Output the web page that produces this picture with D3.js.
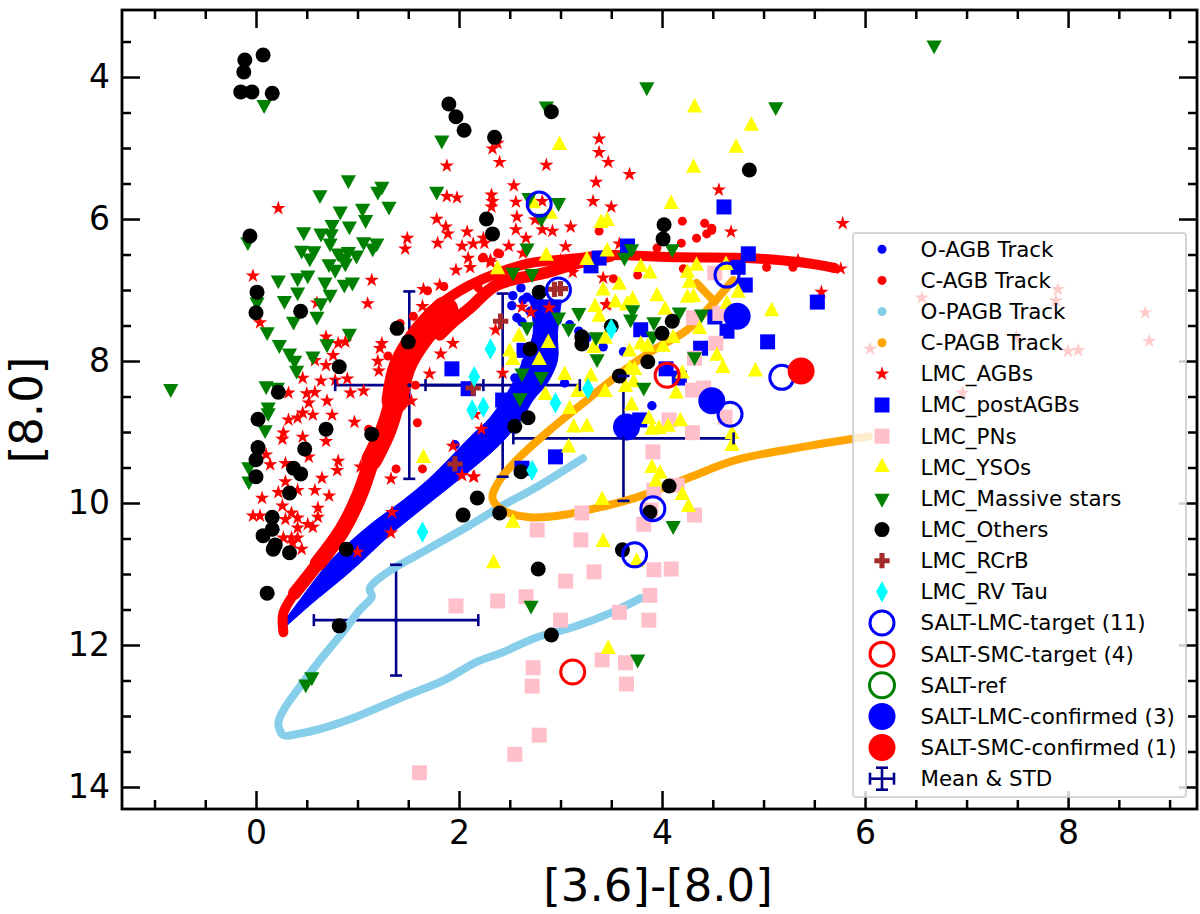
<!DOCTYPE html>
<html>
<head>
<meta charset="utf-8">
<script src="https://cdn.jsdelivr.net/npm/d3@7"></script>
<style>
body { margin: 0; background: #fff; }
text { font-family: "DejaVu Sans", sans-serif; fill: #000; }
</style>
</head>
<body>
<div id="chart"></div>
<script>
// tracks
var oAgbUpper = [[.27,11.68],[.43,11.37],[.73,10.82],[1.12,10.31],[1.45,9.96],[1.71,9.65],[2.11,9.07],[2.31,8.79],[2.53,8.31],[2.63,7.99],[2.73,7.61],[2.70,7.14]];
var oAgbLower = [[.31,11.72],[.53,11.44],[.95,10.94],[1.32,10.45],[1.62,10.10],[1.91,9.77],[2.11,9.54],[2.40,9.18],[2.63,8.79],[2.73,8.55],[2.87,8.31],[2.97,7.99],[2.97,7.61],[3.01,7.14]];
var oAgbDots = [[2.61,6.97],[2.53,7.08],[2.52,7.22],[2.57,7.39],[3.42,7.80],[3.62,7.87],[3.90,8.63],[3.04,8.31],[2.92,7.99],[1.96,9.18],[2.97,7.42],[3.09,7.49],[3.18,7.58],[3.26,7.68],[2.67,7.10],[2.73,7.14],[2.80,7.18],[2.63,7.14],[2.70,7.30],[2.62,7.45],[2.55,8.24],[2.66,8.02]];
var cAgbTip = [[.27,11.82],[.27,11.55],[.38,11.27],[.50,11.05]];
var cAgbLow = [[.38,11.27],[.61,10.85],[.85,10.38]];
var cAgbMid = [[.61,10.85],[.85,10.38],[1.02,9.89],[1.14,9.39]];
var cAgbStem = [[1.14,9.39],[1.28,8.97],[1.37,8.55]];
var cAgbBlob = [[1.37,8.55],[1.44,8.08],[1.64,7.61],[1.86,7.28]];
var cAgbUpper = [[1.71,7.31],[1.91,7.10],[2.11,6.93],[2.40,6.75],[2.70,6.62],[3.19,6.55],[3.42,6.51],[4.18,6.54],[4.84,6.55],[5.36,6.61],[5.70,6.69]];
var cAgbLower = [[1.81,7.63],[1.94,7.45],[2.11,7.25],[2.37,6.93],[2.87,6.75],[3.19,6.61],[3.49,6.52]];
var cAgbDots = [[4.20,6.03],[4.42,6.06],[4.49,6.13],[4.49,6.16],[4.44,6.21],[4.34,6.27],[4.19,6.34],[3.95,6.41],[3.38,6.17],[4.21,6.70],[5.03,6.68],[5.29,6.68],[3.76,6.79],[3.52,6.84],[2.40,6.49],[1.69,7.01],[1.85,6.95],[1.55,7.37],[1.42,7.47],[1.80,7.41],[1.30,7.93],[1.59,8.87],[1.11,8.96],[1.38,9.52],[1.64,9.52],[1.57,8.34],[2.23,6.55],[2.38,6.48],[2.19,6.97],[2.24,6.54]];
var oPagbTrack = [[3.22,9.37],[2.77,9.77],[2.40,10.06],[2.11,10.31],[1.68,10.66],[1.26,11.01],[1.12,11.20],[1.14,11.32],[1.02,11.51],[.85,11.83],[.61,12.25],[.42,12.61],[.27,12.92],[.22,13.10],[.27,13.27],[.42,13.25],[.66,13.17],[.99,13.01],[1.45,12.73],[1.86,12.49],[2.17,12.24],[2.42,12.11],[2.75,11.90],[3.12,11.75],[3.49,11.55],[3.79,11.34]];
var cPagbTrack = [[6.04,9.06],[5.39,9.21],[4.74,9.39],[4.25,9.65],[3.75,9.92],[3.36,10.07],[3.02,10.17],[2.70,10.20],[2.43,10.10],[2.33,9.93],[2.40,9.68],[2.60,9.35],[2.93,8.93],[3.26,8.55],[3.59,8.17],[3.91,7.85],[4.25,7.56],[4.47,7.24],[4.70,6.86]];
var cPagbBranch = [[4.52,7.17],[4.34,6.90]];

// scatter groups
var lmcAgbs = [[.22,5.85],[1.88,5.25],[1.88,5.68],[1.98,5.70],[1.78,6.0],[1.87,6.11],[1.89,6.21],[2.08,6.18],[1.79,6.34],[2.03,6.38],[2.14,6.35],[1.49,6.27],[1.47,6.42],[2.09,6.55],[2.11,6.68],[1.97,6.72],[1.14,6.86],[-.03,6.80],[1.10,7.19],[1.65,6.99],[1.81,6.93],[.60,7.18],[1.64,7.23],
  [2.24,6.27],[2.31,6.61],[2.33,5.75],[2.63,6.48],[2.31,6.58],[3.0,6.58],[3.12,6.75],
  [3.38,4.87],[3.38,5.06],[3.47,5.2],[3.68,5.37],[3.35,5.48],[3.32,5.75],[3.50,5.83],[2.38,4.93],[2.33,5.01],[2.40,5.20],[2.86,5.24],[2.54,5.53],[2.56,5.76],[2.32,5.66],[2.32,5.83],[2.57,5.97],[2.82,5.75],[2.56,6.15],[2.82,6.15],[2.92,6.17],[3.10,6.11],[2.75,6.01],[2.66,6.27],[2.49,6.38],[3.05,6.39],[2.25,6.34],[3.58,6.35],[4.56,5.59],[4.68,6.18],[5.78,6.06],[5.76,6.70],[5.57,7.03],[3.42,6.83],[3.46,7.20],[5.34,6.58],
  [2.62,7.24],[2.71,7.31],[2.89,7.25],[2.36,7.56],[3.45,7.21],[2.43,8.17],[2.22,8.96],[2.15,9.63],[2.16,8.75],
  [.04,7.46],[.69,7.66],[.81,7.75],[.88,7.73],[.76,7.92],[.58,7.99],[.69,8.06],[.46,8.24],[.64,8.28],[.90,8.25],[.78,8.27],[.93,8.45],[1.06,8.42],[.32,8.45],[.50,8.46],[.58,8.44],[.70,8.56],[.52,8.59],[.46,8.73],[.56,8.76],[.75,8.76],[.32,8.83],[.41,8.80],[.97,8.86],[.27,9.01],[.26,9.10],[.46,9.07],[.69,9.13],[.52,9.35],[.81,9.41],[.80,9.54],[.14,9.46],[.10,9.32],[.29,9.44],[.29,9.70],[.65,9.65],[1.03,9.49],[1.33,9.66],[.58,9.82],[.41,9.82],[.22,9.85],[.72,9.90],[.06,9.93],[.26,10.04],[.61,10.07],[.61,10.20],[-.03,10.18],[.04,10.18],[.29,10.23],[.35,10.14],[.41,10.21],[.41,10.35],[.51,10.30],[.56,10.34],[.27,10.49],[.35,10.49],[.41,10.49],[.45,10.65],[.36,10.56],[1.34,10.13],[1.33,10.42],[1.00,10.69],[1.94,9.20],[2.03,9.61],[2.14,9.63],[1.53,8.56],[1.71,8.18],[1.82,7.90],[1.94,7.75],[1.24,7.75],[1.22,7.82],[1.20,8.0],[1.21,8.14],
  [6.56,7.11],[7.90,6.99],[7.88,7.15],[8.76,7.32],[8.80,7.72],[6.05,7.83],[7.49,7.66],[8.0,7.86],[8.10,7.85],[6.96,8.45]];
var lmcPostAgbs = [[4.61,5.83],[4.85,6.49],[5.53,7.17],[4.75,6.68],[4.82,6.93],[3.66,6.38],[3.38,6.55],[3.30,6.66],[5.04,7.73],[3.79,7.56],[4.38,7.82],[4.52,7.38],[4.64,7.58],[2.64,7.85],[4.04,8.11],[4.17,8.24],[2.43,8.55],[3.78,8.83],[2.95,9.35],[2.62,9.51],[1.93,8.11],[2.09,8.39]];
var lmcPns = [[1.61,13.80],[2.55,13.54],[2.79,13.27],[2.72,12.58],[2.73,12.32],[3.41,12.21],[3.64,12.25],[3.65,12.55],[3.0,11.65],[3.58,11.54],[3.87,11.65],[3.88,11.30],[1.97,11.45],[2.38,11.38],[2.66,11.32],[3.05,11.10],[3.33,10.97],[3.92,10.94],[4.09,10.93],[2.77,10.38],[3.20,10.52],[3.21,10.14],[3.82,10.30],[3.89,10.10],[4.32,10.17],[3.91,9.28],[4.07,8.83],[4.30,9.01],[4.15,9.75],[3.92,9.82],[4.30,8.41],[4.41,8.38],[4.53,7.75],[4.32,7.96],[4.31,7.39],[4.57,7.33],[4.52,6.76],[4.62,8.79]];
var lmcYsos = [[4.32,4.43],[4.88,4.69],[4.73,5.0],[4.31,5.28],[2.99,4.96],[4.09,5.79],[3.46,6.03],[3.40,6.06],[2.90,5.93],[2.73,5.78],[2.86,6.52],[2.38,6.71],[3.26,6.58],[3.46,6.46],[3.79,6.68],[3.88,6.77],[4.34,6.66],[4.25,6.76],[4.63,6.65],[4.27,6.90],[4.75,7.04],[3.58,6.93],[3.42,7.01],[3.95,7.09],[4.25,7.11],[4.31,7.10],[3.54,7.18],[3.71,7.14],[3.66,7.21],[3.34,7.24],[5.08,7.30],[3.38,7.38],[3.65,7.22],[4.03,7.28],[4.64,7.20],[4.54,7.93],[4.60,8.10],[4.92,8.15],[4.37,7.55],[4.11,7.68],[3.44,7.69],[3.79,7.77],[3.86,7.80],[4.01,7.80],[3.68,7.87],[3.33,7.82],[2.88,7.75],[2.79,7.99],[2.50,7.87],[2.53,7.99],[2.59,7.66],[3.04,8.20],[3.30,8.22],[3.17,8.44],[3.44,8.44],[3.68,8.11],[3.73,8.13],[3.72,8.30],[3.64,8.37],[4.20,8.18],[4.14,8.46],[2.85,8.48],[3.09,8.68],[3.70,8.63],[3.13,8.94],[3.26,8.93],[3.87,8.82],[3.90,8.97],[3.97,8.96],[4.06,8.93],[4.18,8.85],[4.69,9.03],[4.69,9.20],[3.08,9.22],[3.90,9.51],[3.98,9.59],[3.94,9.70],[4.20,9.89],[4.26,10.06],[3.41,9.96],[2.53,10.28],[1.65,9.37],[2.34,10.85],[3.42,10.55],[3.75,10.83],[3.47,12.06]];
var lmcMassive = [[.08,4.39],[1.83,4.89],[1.78,5.61],[.91,5.45],[.63,5.66],[1.24,5.54],[1.20,5.61],[1.31,5.82],[1.05,5.85],[.83,5.89],[1.08,6.01],[.75,6.08],[.92,6.10],[.47,6.18],[.64,6.20],[.74,6.21],[.73,6.34],[1.06,6.32],[1.19,6.34],[1.15,6.41],[.45,6.44],[.57,6.45],[.53,6.55],[.81,6.48],[.91,6.46],[.99,6.51],[.86,6.55],[.72,6.63],[.78,6.71],[.88,6.62],[-.08,6.32],[.22,6.86],[.41,6.83],[.51,6.79],[.68,6.89],[.87,6.92],[.95,6.89],[.41,7.03],[.73,7.06],[.28,7.15],[.64,7.18],[.01,7.17],
  [.60,7.37],[.37,7.44],[.11,7.59],[.23,7.77],[.33,7.89],[.38,7.99],[.40,8.13],[.56,7.93],[.70,7.76],[.92,7.61],[-.84,8.39],[.10,8.35],[.21,8.37],[.12,8.65],[.12,8.73],[.09,8.97],[-.07,9.49],[-.07,9.69],
  [2.86,4.41],[3.85,4.14],[5.12,4.42],[6.68,3.55],[2.69,5.70],[2.98,5.77],[2.81,5.99],[2.67,6.41],[2.53,6.75],[2.72,6.77],[3.63,6.54],[3.70,6.42],[4.10,6.42],
  [3.18,7.32],[2.98,7.38],[3.08,7.54],[2.67,7.52],[3.35,7.66],[3.36,7.97],[3.71,7.28],[3.69,7.41],[3.92,7.45],[4.17,7.31],[4.39,7.34],[3.91,7.65],[4.32,7.94],[2.62,8.17],[2.81,8.22],[2.60,8.52],[3.82,8.37],[4.11,10.32],[2.71,11.44],[3.76,12.20],[.55,12.45],[.49,12.55]];
var lmcOthers = [[.07,3.69],[-.11,3.76],[-.12,3.93],[-.15,4.21],[-.04,4.21],[.16,4.23],[1.90,4.38],[1.97,4.56],[2.05,4.75],[2.35,4.85],[2.91,4.49],[-.06,6.24],[2.27,6.0],[2.33,6.21],[4.02,6.08],[4.01,6.28],[4.86,5.31],[.01,7.03],[0,7.32],[.44,7.30],[1.39,7.54],[1.50,7.73],[.82,8.08],[.22,8.44],[.02,8.82],[.69,8.96],[1.14,9.03],[.02,9.22],[0,9.39],[0,9.63],[.48,9.24],[.37,9.51],[.44,9.59],[.33,9.86],[.16,10.20],[.16,10.37],[.07,10.46],[.19,10.59],[.17,10.65],[.33,10.70],[.89,10.65],[2.04,10.17],[2.18,9.93],[.11,11.27],[.82,11.73],[2.78,10.93],[2.91,11.86],[2.40,10.14],[3.61,10.66],[4.07,9.76],[2.79,7.03],[2.70,7.83],[3.21,7.66],[3.21,7.76],[3.50,7.51],[4.10,7.44],[4.0,7.61],[3.86,8.01],[3.58,8.21],[2.68,8.80],[2.55,8.92],[2.61,9.56],[3.88,10.13]];
var lmcRcrb = [[2.94,6.99],[3.0,6.98],[2.41,7.44],[1.96,9.45],[2.14,8.38]];
var lmcRvTau = [[2.31,7.83],[2.15,8.22],[3.50,7.55],[3.27,8.39],[2.95,8.59],[2.24,8.65],[2.13,8.69],[2.72,9.54],[1.64,10.41]];
var saltLmcTarget = [[2.79,5.79],[2.98,7.0],[4.64,6.79],[5.18,8.23],[4.67,8.75],[3.91,10.08],[3.73,10.73]];
var saltSmcTarget = [[4.05,8.2],[3.12,12.38]];
var saltLmcConfirmed = [[4.74,7.37],[4.49,8.56],[3.65,8.93]];
var saltSmcConfirmed = [[5.37,8.14]];
// x, y, xerr, yerr
var meanStd = [[1.51,8.34,.73,1.32],[2.43,8.34,.76,1.29],[3.62,9.09,1.085,.88],[1.38,11.65,.81,.78]];

var xTicks = [0,2,4,6,8];
var yTicks = [4,6,8,10,12,14];
var xMinor = [-1,-.5,.5,1,1.5,2.5,3,3.5,4.5,5,5.5,6.5,7,7.5,8.5,9];
var yMinor = [3.5,4.5,5,5.5,6.5,7,7.5,8.5,9,9.5,10.5,11,11.5,12.5,13,13.5];
var legendLabels = ["O-AGB Track","C-AGB Track","O-PAGB Track","C-PAGB Track","LMC_AGBs","LMC_postAGBs","LMC_PNs","LMC_YSOs","LMC_Massive stars","LMC_Others","LMC_RCrB","LMC_RV Tau","SALT-LMC-target (11)","SALT-SMC-target (4)","SALT-ref","SALT-LMC-confirmed (3)","SALT-SMC-confirmed (1)","Mean & STD"];

var width = 1200, height = 914;
var left = 122, right = 1197, top_ = 10, bottom = 809;
var navy = "#00008b";

var x = d3.scaleLinear().domain([-1.32, 9.27]).range([left, right]);
var y = d3.scaleLinear().domain([3.056, 14.31]).range([top_, bottom]);

var svg = d3.select("#chart").append("svg").attr("width", width).attr("height", height).style("display", "block");
svg.append("defs").append("clipPath").attr("id", "plot").append("rect")
  .attr("x", left).attr("y", top_).attr("width", right - left).attr("height", bottom - top_);
var plot = svg.append("g").attr("clip-path", "url(#plot)");

var line = d3.line().x(function (d) { return x(d[0]); }).y(function (d) { return y(d[1]); }).curve(d3.curveCatmullRom);

// marker shapes: each returns a path and optional rotation / stretch
var shapes = {
  star: { path: d3.symbol().type(d3.symbolStar).size(64)() },
  square: { path: d3.symbol().type(d3.symbolSquare).size(225)() },
  up: { path: d3.symbol().type(d3.symbolTriangle).size(100)(), extra: " scale(1,1.1)" },
  down: { path: d3.symbol().type(d3.symbolTriangle).size(100)(), extra: " rotate(180) scale(1,1.05)" },
  plus: { path: d3.symbol().type(d3.symbolCross).size(130)() },
  diamond: { path: d3.symbol().type(d3.symbolDiamond).size(120)(), extra: " scale(1,1.05)" },
  dot: { path: d3.symbol().type(d3.symbolCircle).size(177)() }
};

function drawTrack(data, color, w) {
  plot.append("path").attr("d", line(data)).attr("fill", "none").attr("stroke", color)
    .attr("stroke-width", w).attr("stroke-linecap", "round").attr("stroke-linejoin", "round");
}
function drawMarkers(data, shape, color) {
  plot.append("g").selectAll("path").data(data).join("path")
    .attr("d", shapes[shape].path)
    .attr("transform", function (d) { return "translate(" + x(d[0]) + "," + y(d[1]) + ")" + (shapes[shape].extra || ""); })
    .attr("fill", color);
}
function drawCircles(data, r, fill, stroke) {
  plot.append("g").selectAll("circle").data(data).join("circle")
    .attr("cx", function (d) { return x(d[0]); })
    .attr("cy", function (d) { return y(d[1]); })
    .attr("r", r)
    .attr("fill", fill)
    .attr("stroke", stroke || "none")
    .attr("stroke-width", stroke ? 3 : 0);
}

// error bar lines sit under everything, their caps and centres on top
var bars = plot.append("g").attr("stroke", navy).attr("stroke-width", 2.6);
meanStd.forEach(function (m) {
  bars.append("line").attr("x1", x(m[0] - m[2])).attr("x2", x(m[0] + m[2])).attr("y1", y(m[1])).attr("y2", y(m[1]));
  bars.append("line").attr("x1", x(m[0])).attr("x2", x(m[0])).attr("y1", y(m[1] - m[3])).attr("y2", y(m[1] + m[3]));
});

// tracks
plot.append("path").attr("d", line(oAgbUpper) + "L" + line(oAgbLower.slice().reverse()).slice(1) + "Z")
  .attr("fill", "#0000ff").attr("stroke", "#0000ff").attr("stroke-width", 1);
drawCircles(oAgbDots, 4.7, "#0000ff");
drawTrack(cAgbTip, "#ff0000", 10);
drawTrack(cAgbLow, "#ff0000", 13);
drawTrack(cAgbMid, "#ff0000", 16);
drawTrack(cAgbStem, "#ff0000", 21);
drawTrack(cAgbBlob, "#ff0000", 27);
drawTrack(cAgbUpper, "#ff0000", 10);
drawTrack(cAgbLower, "#ff0000", 12);
drawCircles(cAgbDots, 4.5, "#ff0000");
drawTrack(oPagbTrack, "#87ceeb", 8);
drawTrack(cPagbTrack, "#ffa500", 8);
drawTrack(cPagbBranch, "#ffa500", 8);

// scatter groups
drawMarkers(lmcAgbs, "star", "#ff0000");
drawMarkers(lmcPostAgbs, "square", "#0000ff");
drawMarkers(lmcPns, "square", "#ffc0cb");
drawMarkers(lmcYsos, "up", "#ffff00");
drawMarkers(lmcMassive, "down", "#008000");
drawMarkers(lmcOthers, "dot", "#000");
drawMarkers(lmcRcrb, "plus", "#a52a2a");
drawMarkers(lmcRvTau, "diamond", "#00ffff");
drawCircles(saltLmcTarget, 12, "none", "#0000ff");
drawCircles(saltSmcTarget, 12, "none", "#ff0000");
drawCircles(saltLmcConfirmed, 13.5, "#0000ff");
drawCircles(saltSmcConfirmed, 13.5, "#ff0000");

var caps = plot.append("g").attr("stroke", navy).attr("stroke-width", 2.6);
meanStd.forEach(function (m) {
  [-1, 1].forEach(function (s) {
    caps.append("line").attr("x1", x(m[0] + s * m[2])).attr("x2", x(m[0] + s * m[2])).attr("y1", y(m[1]) - 6).attr("y2", y(m[1]) + 6);
    caps.append("line").attr("x1", x(m[0]) - 6).attr("x2", x(m[0]) + 6).attr("y1", y(m[1] + s * m[3])).attr("y2", y(m[1] + s * m[3]));
  });
});
plot.append("g").selectAll("circle").data(meanStd).join("circle")
  .attr("cx", function (d) { return x(d[0]); }).attr("cy", function (d) { return y(d[1]); })
  .attr("r", 2).attr("fill", navy);

// axes, ticks point inwards on all four sides
function drawAxis(axis, tx, ty, ticks, size, labels) {
  var g = svg.append("g").attr("transform", "translate(" + tx + "," + ty + ")")
    .call(axis.tickValues(ticks).tickSize(size).tickSizeOuter(0).tickPadding(12)
      .tickFormat(labels ? d3.format("d") : ""));
  g.select(".domain").remove();
  g.selectAll("line").attr("stroke", "#000").attr("stroke-width", 2.5);
  g.selectAll("text").attr("font-family", "DejaVu Sans").attr("font-size", 33);
}
drawAxis(d3.axisBottom(x), 0, bottom, xTicks, -18, true);
drawAxis(d3.axisBottom(x), 0, bottom, xMinor, -9, false);
drawAxis(d3.axisTop(x), 0, top_, xTicks, -18, false);
drawAxis(d3.axisTop(x), 0, top_, xMinor, -9, false);
drawAxis(d3.axisLeft(y), left, 0, yTicks, -18, true);
drawAxis(d3.axisLeft(y), left, 0, yMinor, -9, false);
drawAxis(d3.axisRight(y), right, 0, yTicks, -18, false);
drawAxis(d3.axisRight(y), right, 0, yMinor, -9, false);

svg.append("rect").attr("x", left).attr("y", top_).attr("width", right - left).attr("height", bottom - top_)
  .attr("fill", "none").attr("stroke", "#000").attr("stroke-width", 2.8);

svg.append("text").attr("x", 658).attr("y", 901).attr("text-anchor", "middle").attr("font-size", 45).text("[3.6]-[8.0]");
svg.append("text").attr("transform", "translate(42,410) rotate(-90)").attr("text-anchor", "middle").attr("font-size", 45).text("[8.0]");

// legend
var legend = svg.append("g");
legend.append("rect").attr("x", 853).attr("y", 233).attr("width", 333).attr("height", 564).attr("rx", 3)
  .attr("fill", "#fff").attr("fill-opacity", 0.8).attr("stroke", "#ccc").attr("stroke-opacity", 0.8).attr("stroke-width", 2);

var rowY = d3.scalePoint().domain(legendLabels).range([249.3, 778.7]);
legend.selectAll("text").data(legendLabels).join("text")
  .attr("x", 920.5).attr("y", function (d) { return rowY(d); }).attr("dy", "0.35em")
  .attr("font-size", 21.4).attr("fill", "#000").text(function (d) { return d; });

function keyShape(label, shape, color) {
  legend.append("path").attr("d", shapes[shape].path)
    .attr("transform", "translate(882," + rowY(label) + ")" + (shapes[shape].extra || "")).attr("fill", color);
}
function keyCircle(label, r, fill, stroke) {
  legend.append("circle").attr("cx", 882).attr("cy", rowY(label)).attr("r", r)
    .attr("fill", fill).attr("stroke", stroke || "none").attr("stroke-width", stroke ? 3 : 0);
}
keyCircle(legendLabels[0], 4.5, "#0000ff");
keyCircle(legendLabels[1], 4.5, "#ff0000");
keyCircle(legendLabels[2], 4.5, "#87ceeb");
keyCircle(legendLabels[3], 4.5, "#ffa500");
keyShape(legendLabels[4], "star", "#ff0000");
keyShape(legendLabels[5], "square", "#0000ff");
keyShape(legendLabels[6], "square", "#ffc0cb");
keyShape(legendLabels[7], "up", "#ffff00");
keyShape(legendLabels[8], "down", "#008000");
keyShape(legendLabels[9], "dot", "#000");
keyShape(legendLabels[10], "plus", "#a52a2a");
keyShape(legendLabels[11], "diamond", "#00ffff");
keyCircle(legendLabels[12], 12, "none", "#0000ff");
keyCircle(legendLabels[13], 12, "none", "#ff0000");
keyCircle(legendLabels[14], 12.5, "none", "#008000");
keyCircle(legendLabels[15], 13.5, "#0000ff");
keyCircle(legendLabels[16], 13.5, "#ff0000");

var key = legend.append("g").attr("stroke", navy).attr("stroke-width", 2.6);
var ky = rowY(legendLabels[17]);
key.append("line").attr("x1", 870).attr("x2", 894).attr("y1", ky).attr("y2", ky);
key.append("line").attr("x1", 882).attr("x2", 882).attr("y1", ky - 11).attr("y2", ky + 11);
key.append("line").attr("x1", 870).attr("x2", 870).attr("y1", ky - 6).attr("y2", ky + 6);
key.append("line").attr("x1", 894).attr("x2", 894).attr("y1", ky - 6).attr("y2", ky + 6);
key.append("line").attr("x1", 876).attr("x2", 888).attr("y1", ky - 11).attr("y2", ky - 11);
key.append("line").attr("x1", 876).attr("x2", 888).attr("y1", ky + 11).attr("y2", ky + 11);
</script>
</body>
</html>
